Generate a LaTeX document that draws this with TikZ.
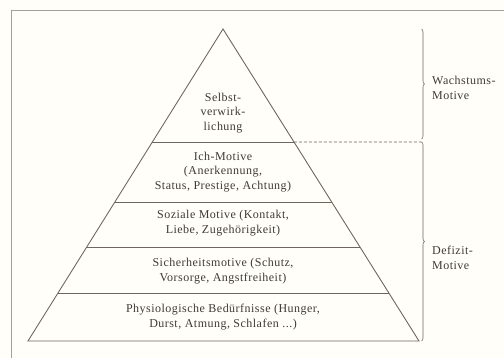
\documentclass[tikz,border=0pt]{standalone}
\usepackage{fontspec}
\setmainfont{Liberation Serif}[LetterSpace=4]
\usetikzlibrary{calc,decorations.pathreplacing}
\definecolor{paper}{HTML}{FFFEF8}
\definecolor{lin}{HTML}{6E665E}
\definecolor{frm}{HTML}{A0A09C}
\definecolor{txt}{HTML}{3F3A36}
\tikzset{
  layerline/.style={draw=lin, line width=0.9pt},
  lbl/.style={text=txt, align=center, font=\fontsize{12}{14.5}\selectfont, inner sep=0pt},
  sidelbl/.style={text=txt, align=left, anchor=west, font=\fontsize{12}{14.5}\selectfont, inner sep=0pt},
  bracestyle/.style={draw=lin, line width=0.6pt, decorate, decoration={brace, amplitude=3pt}}
}
\begin{document}
\begin{tikzpicture}[x=1pt,y=-1pt]
\fill[paper] (0,0) rectangle (504,358);
\useasboundingbox (0,0) rectangle (504,358);
% frame (cropped)
\draw[frm, line width=0.9pt] (11,358) -- (11,10) -- (504,10);
% pyramid
\coordinate (apex) at (223,29);
\coordinate (bl) at (28,341);
\coordinate (br) at (419,341);
\draw[layerline, line join=miter] (bl) -- (apex) -- (br) -- cycle;
\foreach \t/\n in {0.3622/a,0.5545/b,0.6987/c,0.8462/d}{
  \coordinate (l\n) at ($(apex)!\t!(bl)$);
  \coordinate (r\n) at ($(apex)!\t!(br)$);
  \draw[layerline] (l\n) -- (r\n);
}
% dashed line and braces
\coordinate (dend) at (421.5,142);
\coordinate (btop) at (421.5,29);
\coordinate (bmid) at (421.5,139);
\coordinate (bbot) at (421.5,341);
\draw[draw=lin, line width=0.6pt, dash pattern=on 3pt off 2pt] (ra) -- (dend);
\draw[bracestyle] (btop) -- (bmid);
\draw[bracestyle] (dend) -- (bbot);
% texts
\node[lbl] (t1) at (223,113) {Selbst-\\verwirk-\\lichung};
\node[lbl] (t2) at (223,172) {Ich-Motive\\(Anerkennung,\\Status, Prestige, Achtung)};
\node[lbl] (t3) at (223,223) {Soziale Motive (Kontakt,\\Liebe, Zugehörigkeit)};
\node[lbl] (t4) at (223,271) {Sicherheitsmotive (Schutz,\\Vorsorge, Angstfreiheit)};
\node[lbl] (t5) at (223,317) {Physiologische Bedürfnisse (Hunger,\\Durst, Atmung, Schlafen ...)};
\node[sidelbl] (w) at (432,88) {Wachstums-\\Motive};
\node[sidelbl] (d) at (432,258) {Defizit-\\Motive};
\end{tikzpicture}
\end{document}
